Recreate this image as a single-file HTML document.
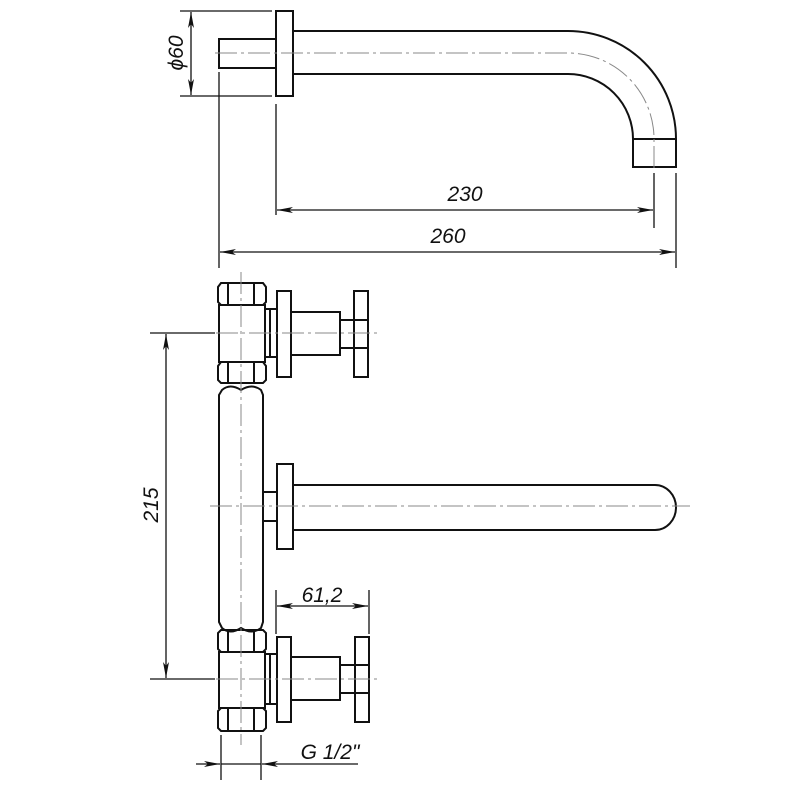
<!DOCTYPE html>
<html><head><meta charset="utf-8"><style>body{margin:0;background:#fff}svg{display:block}</style></head><body>
<svg width="800" height="800" viewBox="0 0 800 800" xmlns="http://www.w3.org/2000/svg">
<defs>
<marker id="a" viewBox="0 0 16 6" refX="16" refY="3" markerWidth="16" markerHeight="6" markerUnits="userSpaceOnUse" orient="auto-start-reverse"><path d="M0,0 L16,3 L0,6 L4,3 Z" fill="#111"/></marker>
</defs>
<g fill="none" stroke="#111" stroke-width="2">
<rect x="219" y="39" width="57" height="29"/>
<rect x="276" y="11" width="17" height="85"/>
<path d="M293,31 H568 A108,108 0 0 1 676,139 V167 H633 V139 A65,65 0 0 0 568,74 H293"/>
<line x1="633" y1="139" x2="676" y2="139"/>
<path d="M221,283 H263 L266,287 V302 L263,305 H221 L218,302 V287 Z"/>
<line x1="228" y1="284" x2="228" y2="305"/><line x1="254" y1="284" x2="254" y2="305"/>
<rect x="219" y="305" width="46" height="57"/>
<path d="M221,362 H263 L266,366 V380 L263,383 H221 L218,380 V366 Z"/>
<line x1="228" y1="362" x2="228" y2="383"/><line x1="254" y1="362" x2="254" y2="383"/>
<path d="M265,309 H276 M265,357 H276 M270,309 V357"/>
<rect x="277" y="291" width="14" height="86"/>
<rect x="291" y="312" width="49" height="43"/>
<rect x="340" y="320" width="14" height="28"/>
<rect x="354" y="291" width="14" height="86"/>
<line x1="354" y1="320" x2="368" y2="320"/><line x1="354" y1="348" x2="368" y2="348"/>
<path d="M222,390 Q230,383 241,390 Q252,383 261,390 L263,395 V622 L261,628 Q252,635 241,628 Q230,635 222,628 L219,622 V395 Z"/>
<rect x="263" y="492" width="14" height="29"/>
<rect x="277" y="464" width="16" height="85"/>
<path d="M293,485 H655 A21,22.5 0 0 1 655,530 H293"/>
<path d="M221,630 H263 L266,633 V649 L263,652 H221 L218,649 V633 Z"/>
<line x1="228" y1="630" x2="228" y2="652"/><line x1="254" y1="630" x2="254" y2="652"/>
<rect x="219" y="652" width="46" height="56"/>
<path d="M221,708 H263 L266,711 V728 L263,731 H221 L218,728 V711 Z"/>
<line x1="228" y1="708" x2="228" y2="731"/><line x1="254" y1="708" x2="254" y2="731"/>
<path d="M265,654 H276 M265,704 H276 M270,654 V704"/>
<rect x="277" y="637" width="14" height="85"/>
<rect x="291" y="657" width="49" height="43"/>
<rect x="340" y="665" width="15" height="28"/>
<rect x="355" y="637" width="14" height="85"/>
<line x1="355" y1="665" x2="369" y2="665"/><line x1="355" y1="693" x2="369" y2="693"/>
</g>
<g stroke="#888" stroke-width="1" stroke-dasharray="22,4,3,4" fill="none">
<path d="M215,53 H568 A86,86 0 0 1 654,139 V170"/>
<line x1="241" y1="272" x2="241" y2="745"/>
<line x1="150" y1="333" x2="380" y2="333"/>
<line x1="210" y1="506" x2="690" y2="506"/>
<line x1="150" y1="679" x2="380" y2="679"/>
</g>
<g stroke="#111" stroke-width="1.3" fill="none">
<line x1="180" y1="11" x2="272" y2="11"/><line x1="180" y1="96" x2="272" y2="96"/>
<line x1="191" y1="12" x2="191" y2="95" marker-start="url(#a)" marker-end="url(#a)"/>
<line x1="219" y1="72" x2="219" y2="268"/><line x1="276" y1="104" x2="276" y2="215"/>
<line x1="654" y1="173" x2="654" y2="228"/><line x1="676" y1="173" x2="676" y2="268"/>
<line x1="277" y1="210" x2="653" y2="210" marker-start="url(#a)" marker-end="url(#a)"/>
<line x1="220" y1="252" x2="675" y2="252" marker-start="url(#a)" marker-end="url(#a)"/>
<line x1="150" y1="333" x2="215" y2="333"/><line x1="150" y1="679" x2="215" y2="679"/>
<line x1="166" y1="334" x2="166" y2="678" marker-start="url(#a)" marker-end="url(#a)"/>
<line x1="276" y1="590" x2="276" y2="634"/><line x1="369" y1="590" x2="369" y2="634"/>
<line x1="277" y1="606" x2="368" y2="606" marker-start="url(#a)" marker-end="url(#a)"/>
<line x1="221" y1="735" x2="221" y2="780"/><line x1="261" y1="735" x2="261" y2="780"/>
<line x1="196" y1="764" x2="220" y2="764" marker-end="url(#a)"/>
<line x1="221" y1="764" x2="261" y2="764"/>
<line x1="358" y1="764" x2="262" y2="764" marker-end="url(#a)"/>
</g>
<g font-family="Liberation Sans, sans-serif" font-style="italic" font-size="21" fill="#111">
<text x="465" y="201" text-anchor="middle">230</text>
<text x="448" y="243" text-anchor="middle">260</text>
<text x="322" y="602" text-anchor="middle">61,2</text>
<text x="330" y="759" text-anchor="middle">G 1/2"</text>
<text transform="translate(183,53) rotate(-90)" text-anchor="middle">ϕ60</text>
<text transform="translate(158,505) rotate(-90)" text-anchor="middle">215</text>
</g>
</svg>
</body></html>
